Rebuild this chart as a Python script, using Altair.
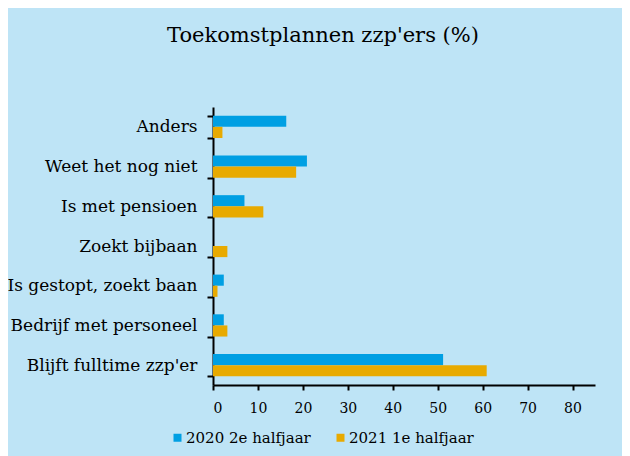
import altair as alt
import pandas as pd

categories = ["Anders", "Weet het nog niet", "Is met pensioen", "Zoekt bijbaan",
              "Is gestopt, zoekt baan", "Bedrijf met personeel", "Blijft fulltime zzp'er"]
series = ["2020 2e halfjaar", "2021 1e halfjaar"]
values_2020 = [16.3, 20.9, 7.0, 0.0, 2.4, 2.4, 51.2]
values_2021 = [2.1, 18.5, 11.2, 3.2, 1.0, 3.2, 60.9]
colors = ["#009FE3", "#E8AA00"]

rows = []
for c, a, b in zip(categories, values_2020, values_2021):
    rows.append({"cat": c, "serie": series[0], "val": a})
    rows.append({"cat": c, "serie": series[1], "val": b})
df = pd.DataFrame(rows)

FONT = "DejaVu Serif"

chart = alt.Chart(df).mark_bar().encode(
    x=alt.X("val:Q", scale=alt.Scale(domain=[0, 85], nice=False),
            axis=alt.Axis(values=[0, 10, 20, 30, 40, 50, 60, 70, 80], title=None,
                          grid=False, domainColor="black", domainWidth=2,
                          tickColor="black", tickWidth=2, tickSize=5,
                          labelFont=FONT, labelFontSize=14, labelColor="black",
                          labelPadding=11)),
    y=alt.Y("cat:N", sort=categories,
            scale=alt.Scale(paddingInner=0.44, paddingOuter=0.22),
            axis=alt.Axis(title=None, tickBand="extent", domainColor="black", domainWidth=2,
                          tickColor="black", tickWidth=2, tickSize=6,
                          labelFont=FONT, labelFontSize=17, labelColor="black",
                          labelPadding=10, labelLimit=300)),
    yOffset=alt.YOffset("serie:N", sort=series),
    color=alt.Color("serie:N", sort=series,
                    scale=alt.Scale(domain=series, range=colors),
                    legend=alt.Legend(title=None, orient="none", direction="horizontal",
                                      legendX=-43, legendY=323, symbolType="square",
                                      symbolSize=64, symbolStrokeWidth=0,
                                      labelFont=FONT, labelFontSize=15, labelColor="black",
                                      columnPadding=22, labelOffset=1, padding=0)),
).properties(
    width=382, height=278,
    title=alt.TitleParams("Toekomstplannen zzp'ers (%)", font=FONT, fontSize=21,
                          fontWeight="normal", color="black", anchor="middle",
                          frame="group", dx=-81, offset=52),
    autosize=alt.AutoSizeParams(type="none"),
    padding={"left": 205, "top": 99, "right": 27, "bottom": 71},
    background="#BEE4F6",
).configure_view(stroke=None)

chart.save("out.html", embed_options={"renderer": "svg", "actions": False})
